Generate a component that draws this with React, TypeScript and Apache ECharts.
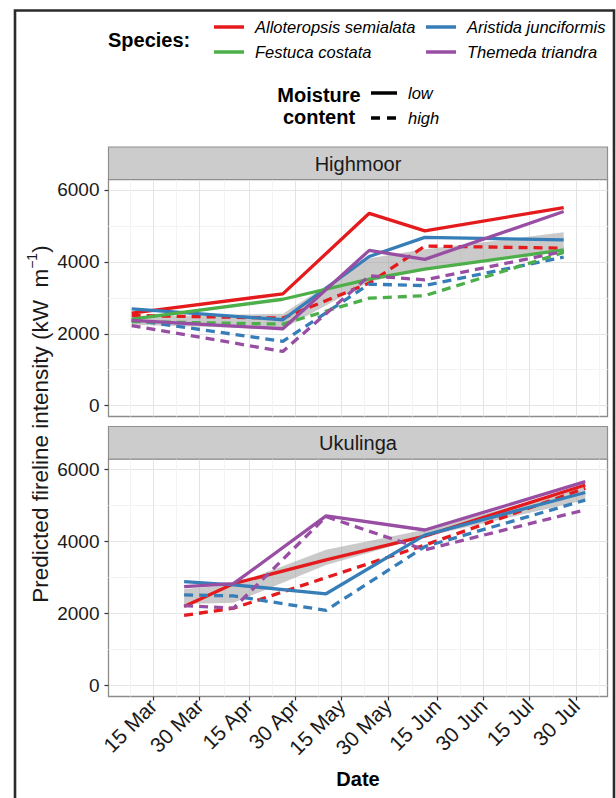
import React, { useEffect, useRef } from "react";
import * as echarts from "echarts";

// ---------- data ----------
const speciesNames = ["Alloteropsis semialata", "Aristida junciformis", "Festuca costata", "Themeda triandra"];
const speciesColors = ["#E41A1C", "#377EB8", "#4DAF4A", "#984EA3"];
const moistureLevels = ["low", "high"];
const siteNames = ["Highmoor", "Ukulinga"];

const tickLabels = ["15 Mar", "30 Mar", "15 Apr", "30 Apr", "15 May", "30 May", "15 Jun", "30 Jun", "15 Jul", "30 Jul"];
const tickDates = ["2015-03-15", "2015-03-30", "2015-04-15", "2015-04-30", "2015-05-15", "2015-05-30", "2015-06-15", "2015-06-30", "2015-07-15", "2015-07-30"];
const yTickValues = [0, 2000, 4000, 6000];
const yMinorValues = [1000, 3000, 5000];

const highmoorDates = ["2015-03-08", "2015-04-26", "2015-05-24", "2015-06-11", "2015-07-26"];
const ukulingaDates = ["2015-03-25", "2015-04-10", "2015-05-10", "2015-06-11", "2015-08-02"];

// Highmoor
const hmAlloteropsisLow = [2575, 3110, 5350, 4860, 5510];
const hmAlloteropsisHigh = [2510, 2435, 3410, 4440, 4380];
const hmAristidaLow = [2690, 2390, 4150, 4680, 4610];
const hmAristidaHigh = [2390, 1790, 3380, 3340, 4130];
const hmFestucaLow = [2410, 2960, 3520, 3800, 4330];
const hmFestucaHigh = [2340, 2270, 2990, 3060, 4260];
const hmThemedaLow = [2370, 2140, 4320, 4070, 5400];
const hmThemedaHigh = [2230, 1510, 3610, 3500, 4290];
const hmRibbonLower = [2250, 2130, 3450, 3790, 4330];
const hmRibbonUpper = [2480, 2560, 4100, 4350, 4820];

// Ukulinga
const ukAlloteropsisLow = [2200, 2830, 3490, 4150, 5570];
const ukAlloteropsisHigh = [1950, 2150, 3000, 3900, 5480];
const ukAristidaLow = [2890, 2800, 2550, 4180, 5360];
const ukAristidaHigh = [2520, 2490, 2090, 3860, 5150];
const ukThemedaLow = [2750, 2830, 4710, 4320, 5660];
const ukThemedaHigh = [2220, 2150, 4690, 3770, 4880];
const ukRibbonLower = [2270, 2300, 3350, 4130, 5150];
const ukRibbonUpper = [2680, 2800, 3770, 4330, 5520];

const siteData = [
  {
    dates: highmoorDates,
    lines: [
      [0, "low", hmAlloteropsisLow], [0, "high", hmAlloteropsisHigh],
      [1, "low", hmAristidaLow], [1, "high", hmAristidaHigh],
      [2, "low", hmFestucaLow], [2, "high", hmFestucaHigh],
      [3, "low", hmThemedaLow], [3, "high", hmThemedaHigh],
    ],
    lower: hmRibbonLower,
    upper: hmRibbonUpper,
  },
  {
    dates: ukulingaDates,
    lines: [
      [0, "low", ukAlloteropsisLow], [0, "high", ukAlloteropsisHigh],
      [1, "low", ukAristidaLow], [1, "high", ukAristidaHigh],
      [3, "low", ukThemedaLow], [3, "high", ukThemedaHigh],
    ],
    lower: ukRibbonLower,
    upper: ukRibbonUpper,
  },
];

// ---------- helpers ----------
const ORIGIN = Date.parse("2015-03-15");
const dayOf = (s: string) => Math.round((Date.parse(s) - ORIGIN) / 86400000);
const tickDays = tickDates.map(dayOf);
const minorDays: number[] = [];
for (let i = 0; i <= tickDays.length; i++) {
  const a = i === 0 ? tickDays[0] - (tickDays[1] - tickDays[0]) : tickDays[i - 1];
  const b = i === tickDays.length ? tickDays[i - 1] + (tickDays[i - 1] - tickDays[i - 2]) : tickDays[i];
  minorDays.push((a + b) / 2);
}
const labelFor = (v: number) => {
  const idx = tickDays.findIndex((d) => Math.abs(d - v) < 0.01);
  return idx >= 0 ? tickLabels[idx] : "";
};

const FONT = "'Liberation Sans', Arial, Helvetica, sans-serif";
const TXT = "#1a1a1a";
const X_MIN = -14.5;
const X_MAX = 147.2;
const Y_MIN = -300;
const Y_MAX = 6290;
const PANEL_LEFT = 108.5;
const PANEL_W = 499;
const panels = [
  { top: 179.5, height: 237, stripTop: 147 },
  { top: 459, height: 237.5, stripTop: 426.5 },
];

function buildOption() {
  const grid: any[] = [];
  const xAxis: any[] = [];
  const yAxis: any[] = [];
  const series: any[] = [];

  panels.forEach((p, g) => {
    grid.push({
      left: PANEL_LEFT, top: p.top, width: PANEL_W, height: p.height,
      show: true, borderColor: "#8c8c8c", borderWidth: 1.3, backgroundColor: "#fff", containLabel: false,
    });
    // major x
    xAxis.push({
      type: "value", gridIndex: g, min: X_MIN, max: X_MAX,
      axisLine: { show: false, onZero: false },
      axisTick: { show: g === 1, length: 4, lineStyle: { color: "#333", width: 1.2 }, customValues: tickDays },
      axisLabel: {
        show: g === 1, customValues: tickDays, rotate: 45, margin: 6, fontSize: 21,
        padding: [12, 0, 0, 0],
        color: TXT, fontFamily: FONT, formatter: (v: number) => labelFor(v),
      },
      splitLine: { show: true, lineStyle: { color: "#e4e4e4", width: 1 } },
    });
    // minor x
    xAxis.push({
      type: "value", gridIndex: g, min: X_MIN, max: X_MAX,
      axisLine: { show: false, onZero: false },
      axisTick: { show: false, customValues: minorDays },
      axisLabel: { show: false, customValues: minorDays },
      splitLine: { show: true, lineStyle: { color: "#f3f3f3", width: 1 } },
    });
    // major y
    yAxis.push({
      type: "value", gridIndex: g, min: Y_MIN, max: Y_MAX,
      axisLine: { show: false, onZero: false },
      axisTick: { show: true, length: 4, lineStyle: { color: "#333", width: 1.2 }, customValues: yTickValues },
      axisLabel: {
        show: true, customValues: yTickValues, margin: 9, fontSize: 19, color: TXT, fontFamily: FONT,
        formatter: (v: number) => String(Math.round(v)),
      },
      splitLine: { show: true, lineStyle: { color: "#e4e4e4", width: 1 } },
    });
    // minor y
    yAxis.push({
      type: "value", gridIndex: g, min: Y_MIN, max: Y_MAX, position: "left",
      axisLine: { show: false, onZero: false },
      axisTick: { show: false, customValues: yMinorValues },
      axisLabel: { show: false, customValues: yMinorValues },
      splitLine: { show: true, lineStyle: { color: "#f3f3f3", width: 1 } },
    });

    const sd = siteData[g];
    const xs = sd.dates.map(dayOf);
    // ribbon
    series.push({
      type: "custom", xAxisIndex: 2 * g, yAxisIndex: 2 * g, z: 2, silent: true,
      data: xs.map((x, i) => [x, sd.lower[i], sd.upper[i]]),
      encode: { x: 0, y: [1, 2] },
      renderItem: (params: any, api: any) => {
        if (params.dataIndex !== 0) return null;
        const pts: number[][] = [];
        for (let i = 0; i < xs.length; i++) pts.push(api.coord([xs[i], sd.upper[i]]));
        for (let i = xs.length - 1; i >= 0; i--) pts.push(api.coord([xs[i], sd.lower[i]]));
        return { type: "polygon", shape: { points: pts }, style: { fill: "rgba(150,150,150,0.5)" } };
      },
    });
    sd.lines.forEach((ln: any) => {
      const [sp, moist, vals] = ln;
      series.push({
        type: "line", xAxisIndex: 2 * g, yAxisIndex: 2 * g, z: 3, silent: true,
        name: speciesNames[sp] + " " + moist,
        data: xs.map((x, i) => [x, vals[i]]),
        symbol: "none", showSymbol: false,
        lineStyle: { color: speciesColors[sp], width: 3.3, type: moist === "low" ? "solid" : [9, 6], cap: "butt" },
      });
    });
  });

  const graphic: any[] = [];
  // figure border
  graphic.push({ type: "polyline", shape: { points: [[15, 798], [15, 10.5], [614, 10.5], [614, 798]] }, style: { stroke: "#2b2b2b", lineWidth: 2.6, fill: "none" }, z: 100 });
  // strips
  panels.forEach((p, g) => {
    graphic.push({ type: "rect", shape: { x: PANEL_LEFT, y: p.stripTop, width: PANEL_W, height: p.top - p.stripTop }, style: { fill: "#cccccc", stroke: "#8f8f8f", lineWidth: 1.2 }, z: 50 });
    graphic.push({ type: "text", x: PANEL_LEFT + PANEL_W / 2, y: p.stripTop + (p.top - p.stripTop) / 2 + 0.5, style: { text: siteNames[g], font: `20px ${FONT}`, fill: TXT, align: "center", verticalAlign: "middle" }, z: 51 });
  });
  // legend: species
  graphic.push({ type: "text", x: 108, y: 40, style: { text: "Species:", font: `bold 20px ${FONT}`, fill: "#000", align: "left", verticalAlign: "middle" } });
  const keyPos = [[214, 27], [426, 27], [214, 52], [426, 52]];
  speciesNames.forEach((nm, i) => {
    const [kx, ky] = keyPos[i];
    graphic.push({ type: "line", shape: { x1: kx, y1: ky, x2: kx + 30, y2: ky }, style: { stroke: speciesColors[i], lineWidth: 3.5 } });
    graphic.push({ type: "text", x: kx + 41, y: ky, style: { text: nm, font: `italic 16.5px ${FONT}`, fill: "#000", align: "left", verticalAlign: "middle" } });
  });
  // legend: moisture
  graphic.push({ type: "text", x: 319, y: 95, style: { text: "Moisture", font: `bold 20px ${FONT}`, fill: "#000", align: "center", verticalAlign: "middle" } });
  graphic.push({ type: "text", x: 319, y: 117, style: { text: "content", font: `bold 20px ${FONT}`, fill: "#000", align: "center", verticalAlign: "middle" } });
  graphic.push({ type: "line", shape: { x1: 371, y1: 93, x2: 397, y2: 93 }, style: { stroke: "#000", lineWidth: 3.5 } });
  graphic.push({ type: "line", shape: { x1: 371, y1: 118, x2: 397, y2: 118 }, style: { stroke: "#000", lineWidth: 3.5, lineDash: [9, 7] } });
  graphic.push({ type: "text", x: 408, y: 93, style: { text: moistureLevels[0], font: `italic 16.5px ${FONT}`, fill: "#000", align: "left", verticalAlign: "middle" } });
  graphic.push({ type: "text", x: 408, y: 118, style: { text: moistureLevels[1], font: `italic 16.5px ${FONT}`, fill: "#000", align: "left", verticalAlign: "middle" } });
  // axis titles
  graphic.push({ type: "text", x: PANEL_LEFT + PANEL_W / 2, y: 779, style: { text: "Date", font: `bold 20px ${FONT}`, fill: "#000", align: "center", verticalAlign: "middle" } });
  graphic.push({
    type: "text", x: 38, y: 424, rotation: Math.PI / 2,
    style: {
      text: "{a|Predicted fireline intensity (kW  m}{s|−1}{a|)}",
      align: "center", verticalAlign: "middle",
      rich: {
        a: { fontSize: 22.5, fontFamily: FONT, fill: TXT, color: TXT, lineHeight: 27, verticalAlign: "bottom" },
        s: { fontSize: 14, fontFamily: FONT, fill: TXT, color: TXT, lineHeight: 27, verticalAlign: "top", padding: [0, 0, 13, 0] },
      },
    },
  });

  return { animation: false, backgroundColor: "#fff", grid, xAxis, yAxis, series, graphic };
}

export default function App() {
  const ref = useRef<HTMLDivElement>(null);
  useEffect(() => {
    document.body.style.margin = "0";
    const chart = echarts.init(ref.current!, null, { renderer: "svg" });
    chart.setOption(buildOption() as any);
    return () => chart.dispose();
  }, []);
  return <div ref={ref} style={{ position: "fixed", left: 0, top: 0, width: 616, height: 798 }} />;
}
